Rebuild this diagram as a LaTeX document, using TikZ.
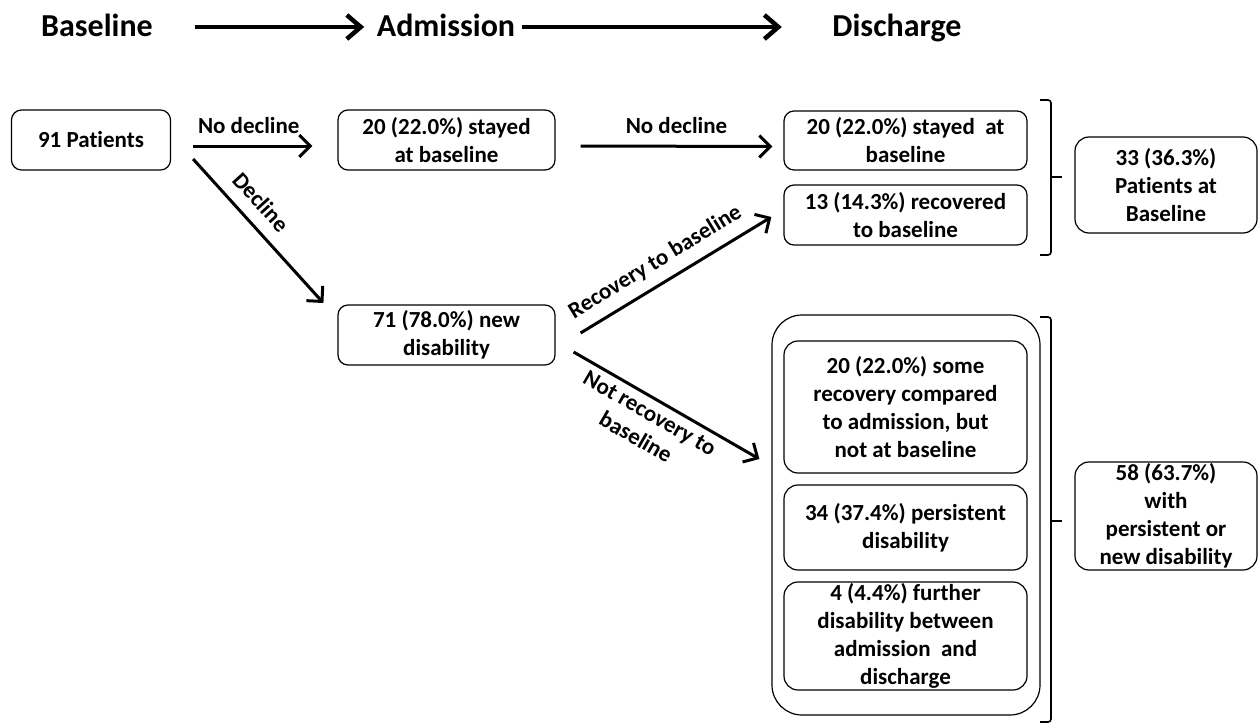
\documentclass[tikz,border=0pt]{standalone}
\usepackage{fontspec}
\setmainfont{Carlito}[Ligatures=NoCommon]
\usetikzlibrary{
	arrows.meta,
	calc
}
\tikzset{
	every picture/.style={
		line width=1.3pt,
		draw=black,
		text=black,
		font=\bfseries\fontsize{23}{28}\selectfont,
	},
}
\tikzstyle{box} = [
	draw,
	rounded corners=10pt,
	align=center,
	inner sep=0pt,
	line width=1.2pt
]
\tikzstyle{sub} = [box, rounded corners=14pt, minimum width=243]
\tikzstyle{ttl} = [inner sep=0pt, anchor=base, font=\bfseries\fontsize{32}{40}\selectfont]
\tikzstyle{arr} = [-{Straight Barb[length=11pt, width=22pt]}, line width=3pt]
\tikzstyle{bigarr} = [-{Straight Barb[length=14pt, width=24pt]}, line width=4.5pt]
\tikzstyle{lbl} = [inner sep=3pt, align=center]
\tikzstyle{brk} = [line width=1.6pt, rounded corners=3pt]

\begin{document}
\begin{tikzpicture}[x=1pt, y=1pt]
	\useasboundingbox (0, 0) rectangle (1259, -725);

	% stages
	\node[ttl] (t1) at (97, -37) {Baseline};
	\node[ttl] (t2) at (446, -37) {Admission};
	\node[ttl] (t3) at (897, -37) {Discharge};
	\draw[bigarr] ([xshift=42]t1.east |- 0, -27) -- ([xshift=-12]t2.west |- 0, -27);
	\draw[bigarr] ([xshift=6]t2.east |- 0, -27) -- ([xshift=-50]t3.west |- 0, -27);

	% baseline / admission
	\node[box, minimum width=159, minimum height=60] (pat) at (91, -140) {91 Patients};
	\node[box, minimum width=217, minimum height=60] (a1) at (446.5, -140) {20 (22.0\%) stayed\\at baseline};
	\node[box, minimum width=217, minimum height=60] (a2) at (446.5, -335) {71 (78.0\%) new\\disability};

	% discharge
	\node[box, minimum width=243, minimum height=59] (d1) at (905.5, -140.5) {20 (22.0\%) stayed~ at\\baseline};
	\node[box, minimum width=243, minimum height=60] (d2) at (905.5, -215) {13 (14.3\%) recovered\\to baseline};
	\node[box, rounded corners=30pt, minimum width=268, minimum height=400] (dg) at (906, -515) {};
	\node[sub, minimum height=132] (g1) at (905.5, -407) {20 (22.0\%) some\\recovery compared\\to admission, but\\not at baseline};
	\node[sub, minimum height=85] (g2) at (905.5, -527.5) {34 (37.4\%) persistent\\disability};
	\node[sub, minimum height=108] (g3) at (905.5, -636) {4 (4.4\%) further\\disability between\\admission~ and\\discharge};

	% totals
	\node[box, rounded corners=14pt, minimum width=182, minimum height=96] (s1) at (1166, -185) {33 (36.3\%)\\Patients at\\Baseline};
	\node[box, rounded corners=14pt, minimum width=182, minimum height=108] (s2) at (1166, -516) {58 (63.7\%)\\with\\persistent or\\new disability};
	\draw[brk] (1040, -100) -- (1051, -100) -- (1051, -255) -- (1040, -255);
	\draw[brk] (1051, -177) -- (1062, -177);
	\draw[brk] (1040, -317) -- (1051, -317) -- (1051, -722) -- (1040, -722);
	\draw[brk] (1051, -521) -- (1062, -521);

	% transitions
	\draw[arr] ([xshift=22, yshift=-6]pat.east) -- node[lbl, above=8pt, xshift=-4] {No decline} ([xshift=-25, yshift=-6]a1.west);
	\draw[arr] ([xshift=22, yshift=-19]pat.east) -- node[lbl, above=9pt, sloped, pos=.4] {Decline} ([xshift=-14, yshift=32]a2.west);
	\draw[arr] ([xshift=25, yshift=-6]a1.east) -- node[lbl, above=8pt] {No decline} ([xshift=-11, yshift=-6]d1.west);
	\draw[arr] ([xshift=25, yshift=2]a2.east) -- node[lbl, above=7pt, sloped, pos=.45] {Recovery to baseline} ([xshift=-12, yshift=-2]d2.west);
	\draw[arr] ([xshift=18, yshift=-17]a2.east) -- node[lbl, below=3pt, sloped, pos=.45] {Not recovery to\\baseline} ([xshift=-12, yshift=56]dg.west);
\end{tikzpicture}
\end{document}
